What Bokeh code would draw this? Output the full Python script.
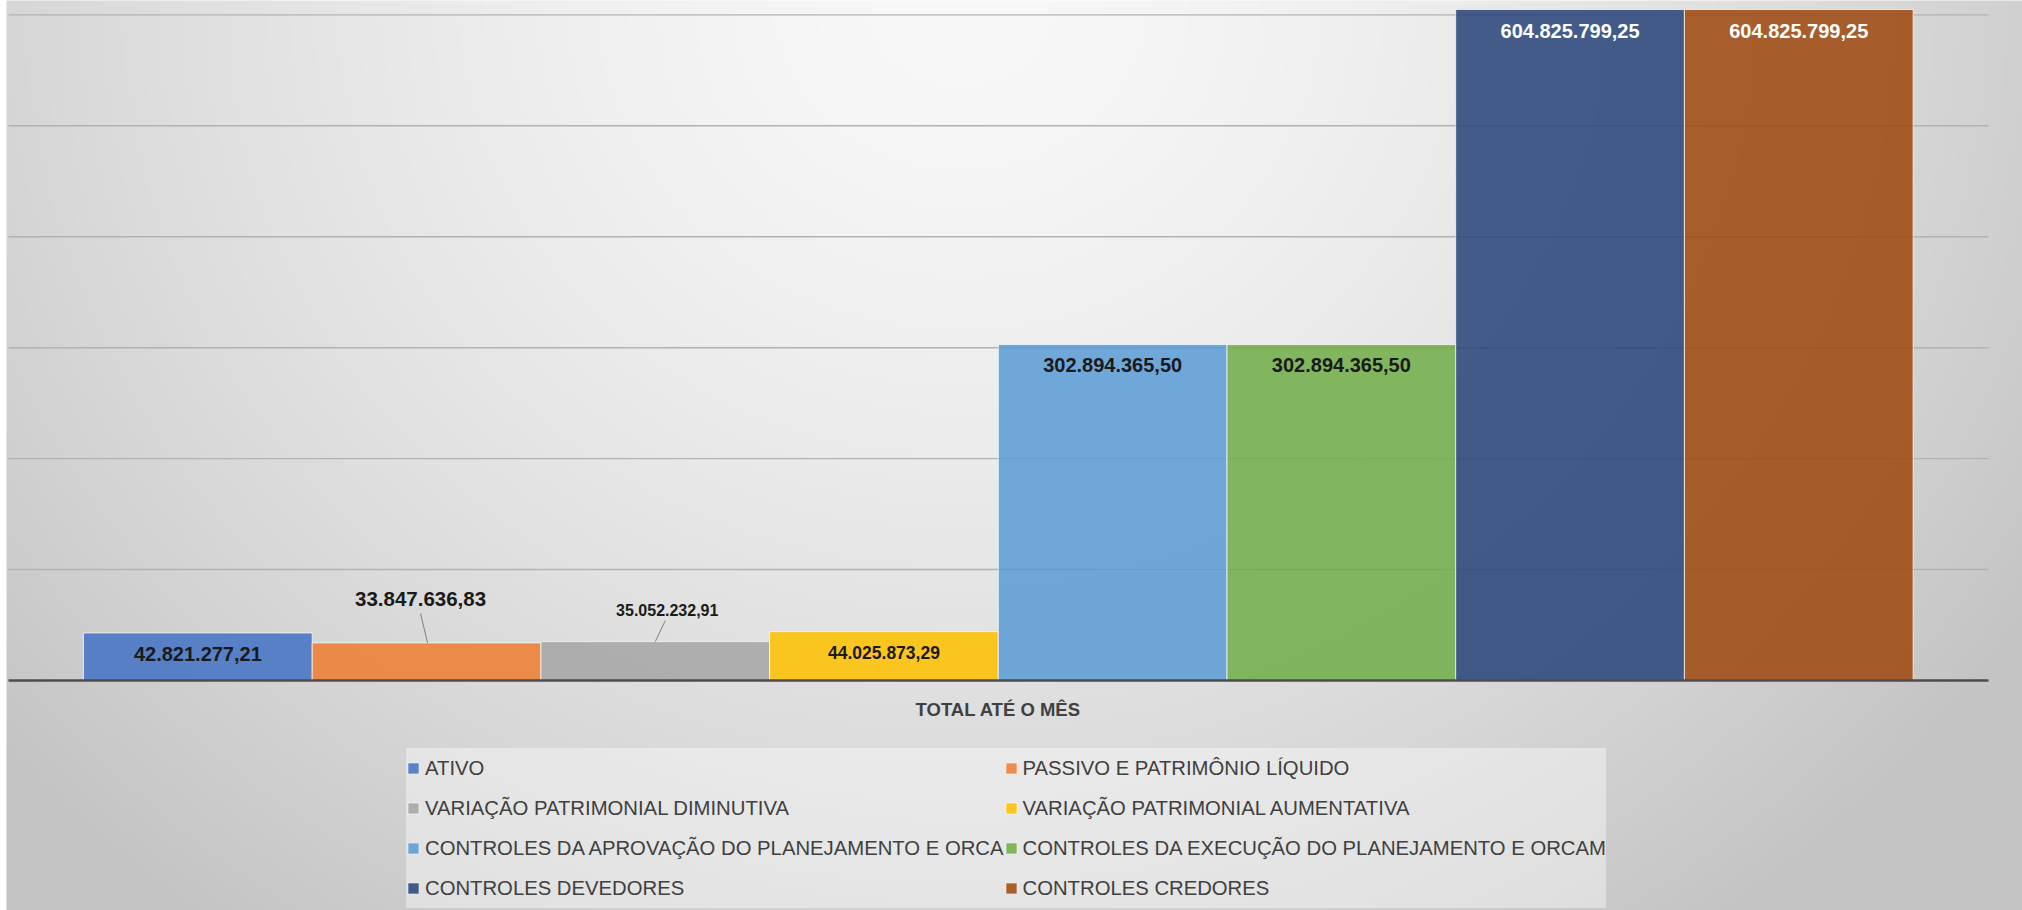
import numpy as np
from bokeh.plotting import figure
from bokeh.models import Range1d, Legend, LegendItem, ColumnDataSource
from bokeh.core.properties import value
from bokeh.embed import file_html
from bokeh.resources import INLINE

# ---------------- data ----------------
CATEGORY = "TOTAL ATÉ O MÊS"
SERIES = [
    "ATIVO",
    "PASSIVO E PATRIMÔNIO LÍQUIDO",
    "VARIAÇÃO PATRIMONIAL DIMINUTIVA",
    "VARIAÇÃO PATRIMONIAL AUMENTATIVA",
    "CONTROLES DA APROVAÇÃO DO PLANEJAMENTO E ORCA",
    "CONTROLES DA EXECUÇÃO DO PLANEJAMENTO E ORCAM",
    "CONTROLES DEVEDORES",
    "CONTROLES CREDORES",
]
VALUES = [42821277.21, 33847636.83, 35052232.91, 44025873.29,
          302894365.50, 302894365.50, 604825799.25, 604825799.25]
GRID_TICKS = [100e6, 200e6, 300e6, 400e6, 500e6, 600e6]

# ---------------- styles ----------------
COLORS = ["#4472C4", "#ED7D31", "#A5A5A5", "#FFC000",
          "#5B9BD5", "#70AD47", "#264478", "#9E480E"]
LABEL_SIZES = ["20px", "20.5px", "16px", "17.5px", "20px", "20px", "20px", "20px"]
LABEL_COLORS = ["#1a1a1a"] * 6 + ["#ffffff"] * 2
LABEL_DX = [0, -6, 12, 0, 0, 0, 0, 0]          # px
LABEL_DY = [21, -43.5, -32, 21, 21, 21, 21, 21]  # px, down is positive
LEADER_IDX = [1, 2]
LEADER_START = [(-6, -29.5), (10, -21)]
LEADER_END = [(1, 0), (0, 0)]
FONT = "Liberation Sans"

FIG_W, FIG_H = 2022, 910
CHART_LEFT = 6           # px where the chart background begins
PLOT_LEFT = 8            # px where gridlines begin
PLOT_RIGHT = 1988        # px where gridlines end
BAR_PX = 228.7           # pixel width of one bar
FIRST_BAR_LEFT = 83      # px from figure left
BASE_PX = 680            # px from top of figure for value 0
UNITS_PER_PX_Y = 604825799.25 / 671.0

X_START = -0.5 - FIRST_BAR_LEFT / BAR_PX
X_END = X_START + FIG_W / BAR_PX
Y_END = BASE_PX * UNITS_PER_PX_Y
Y_START = -(FIG_H - BASE_PX) * UNITS_PER_PX_Y
XU = (X_END - X_START) / FIG_W
YU = (Y_END - Y_START) / FIG_H


def br(v):
    s = f"{v:,.2f}"
    return s.replace(",", "X").replace(".", ",").replace("X", ".")


p = figure(width=FIG_W, height=FIG_H,
           x_range=Range1d(X_START, X_END), y_range=Range1d(Y_START, Y_END),
           x_axis_type=None, y_axis_type=None,
           toolbar_location=None, output_backend="svg",
           min_border=0, outline_line_color=None)
p.background_fill_color = "#ffffff"
p.border_fill_color = "#ffffff"

# background gradient (chart area)
DS = 3
bg_w = FIG_W - CHART_LEFT
w, h = bg_w // DS + 1, FIG_H // DS + 1
px_x = CHART_LEFT + (np.arange(w) + 0.5) * DS
px_y = FIG_H - (np.arange(h) + 0.5) * DS
X, Y = np.meshgrid(px_x, px_y)
t = np.sqrt(((X - 960) / 1100) ** 2 + (Y / 1000) ** 2)
v = np.clip(248 - 42 * t ** 1.5, 196, 255).astype(np.uint8)
rgba = np.empty((h, w, 4), dtype=np.uint8)
rgba[..., 0] = v
rgba[..., 1] = v
rgba[..., 2] = v
rgba[..., 3] = 255
img = rgba.view(np.uint32).reshape(h, w)
x_chart_left = X_START + CHART_LEFT * XU
p.image_rgba(image=[img], x=x_chart_left, y=Y_START,
             dw=w * DS * XU, dh=h * DS * YU)

# gridlines
x_plot_left = X_START + PLOT_LEFT * XU
x_plot_right = X_START + PLOT_RIGHT * XU
p.segment(x0=[x_plot_left] * len(GRID_TICKS), x1=[x_plot_right] * len(GRID_TICKS),
          y0=GRID_TICKS, y1=GRID_TICKS, line_color="#b2b2b2", line_width=1.4)

xs = list(range(len(SERIES)))
src = ColumnDataSource(dict(
    x=xs, top=VALUES, name=SERIES, color=COLORS,
    label=[br(v) for v in VALUES], size=LABEL_SIZES, lcolor=LABEL_COLORS,
    dx=LABEL_DX, dy=LABEL_DY,
))
bars = p.vbar(x="x", top="top", bottom=0, width=1.0, source=src,
              fill_color="color", fill_alpha=0.86,
              line_color="white", line_alpha=0.7, line_width=1)

# axis baseline
p.segment(x0=[x_plot_left], x1=[x_plot_right], y0=[0], y1=[0],
          line_color="#4d4d4d", line_width=2.5)

# leader lines
lx0, lx1, ly0, ly1 = [], [], [], []
for k, i in enumerate(LEADER_IDX):
    lx0.append(xs[i] + LEADER_START[k][0] * XU)
    ly0.append(VALUES[i] - LEADER_START[k][1] * YU)
    lx1.append(xs[i] + LEADER_END[k][0] * XU)
    ly1.append(VALUES[i] - LEADER_END[k][1] * YU)
p.segment(x0=lx0, x1=lx1, y0=ly0, y1=ly1, line_color="#7f7f7f", line_width=1)

# data labels
p.text(x="x", y="top", text="label", source=src, x_offset="dx", y_offset="dy",
       text_font=value(FONT), text_font_style="bold", text_font_size="size",
       text_color="lcolor", text_align="center", text_baseline="middle")

# category label
p.text(x=[(len(SERIES) - 1) / 2], y=[0], text=[CATEGORY], y_offset=29,
       text_font=value(FONT), text_font_style="bold", text_font_size="18.5px",
       text_color="#404040", text_align="center", text_baseline="middle")

items = [LegendItem(label=SERIES[i], renderers=[bars], index=i) for i in range(len(SERIES))]
legend = Legend(items=items, location=(406, 2), orientation="horizontal", ncols=2,
                background_fill_color="white", background_fill_alpha=0.4,
                border_line_color=None, padding=8, spacing=0, margin=0,
                label_height=40, label_width=560,
                glyph_height=14, glyph_width=14, label_standoff=5,
                label_text_font=FONT, label_text_font_size="20.3px",
                label_text_color="#404040")
p.add_layout(legend)

open("out.html", "w").write(file_html(p, INLINE))
